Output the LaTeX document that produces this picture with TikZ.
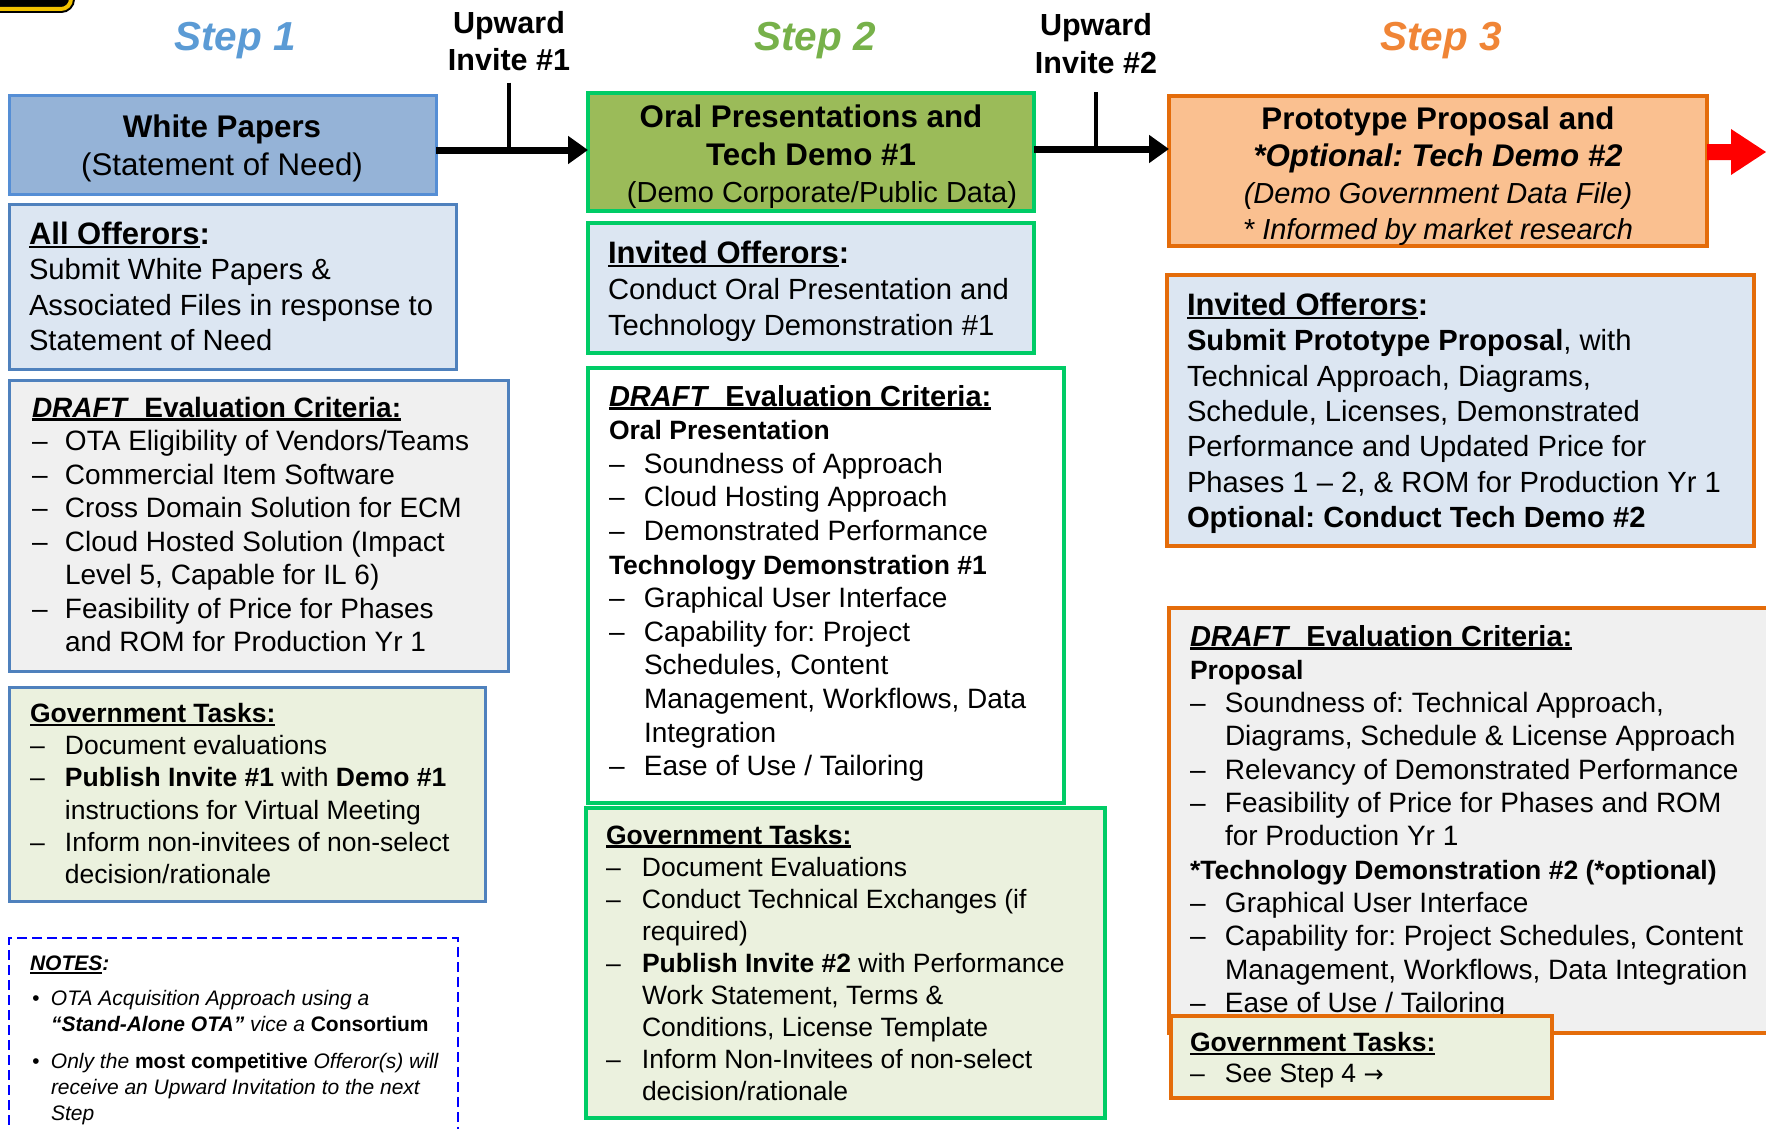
\documentclass[tikz,border=0pt]{standalone}
\usepackage{fontspec}
\setmainfont{Liberation Sans}
\newfontfamily\symfont{DejaVu Sans}
\usetikzlibrary{arrows.meta}
\definecolor{stepA}{HTML}{5B9BD5}
\definecolor{stepB}{HTML}{77B14A}
\definecolor{stepC}{HTML}{F08536}
\definecolor{wpfill}{HTML}{95B3D7}
\definecolor{wpdraw}{HTML}{558ED5}
\definecolor{blueline}{HTML}{4F81BD}
\definecolor{lblue}{HTML}{DCE6F2}
\definecolor{lgray}{HTML}{F0F0F0}
\definecolor{lgreen}{HTML}{EBF1DE}
\definecolor{olive}{HTML}{9BBB59}
\definecolor{grnline}{HTML}{00CC66}
\definecolor{peach}{HTML}{FAC090}
\definecolor{orgline}{HTML}{E46C0A}
\definecolor{badgeY}{HTML}{F2C200}
\definecolor{notesblue}{HTML}{0000FF}
\definecolor{redarrow}{HTML}{FF0000}
\newsavebox\ulbox
\newcommand\ulin[1]{\sbox\ulbox{#1}\rlap{\rule[-3.5pt]{\wd\ulbox}{2.2pt}}\usebox\ulbox}
\newcommand\fsz[2]{\fontsize{#1}{#2}\selectfont}
\frenchspacing
\begin{document}
\frenchspacing
\begin{tikzpicture}[x=1pt,y=-1pt,
  bx/.style={inner sep=0pt, outer sep=0pt, anchor=north west},
  c1box/.style={bx, draw=blueline, line width=3pt},
  c2box/.style={bx, draw=grnline, line width=4pt},
  c3box/.style={bx, draw=orgline, line width=4pt},
  txt/.style={inner sep=0pt, outer sep=0pt, anchor=base west},
  ctxt/.style={inner sep=0pt, outer sep=0pt, anchor=base},
  title/.style={ctxt, font={\fsz{40.5}{48}\bfseries\itshape}},
  conn/.style={line width=7pt, -{Triangle[length=20pt,width=27pt]}},
  vline/.style={line width=3.5pt}
]
\useasboundingbox (0,0) rectangle (1766,1129);

% partial badge at the top-left corner
\draw[fill=black, draw=black, line width=8pt, rounded corners=10pt] (-80,-60) rectangle (71,9);
\draw[draw=badgeY, line width=4pt, rounded corners=10pt] (-80,-60) rectangle (71,9);

% step titles
\node[title, text=stepA] (s1) at (235,51) {Step 1};
\node[title, text=stepB] (s2) at (815,51) {Step 2};
\node[title, text=stepC] (s3) at (1441,51) {Step 3};

\node[ctxt] (up1) at (509,33.5) {\fsz{30.5}{37}\bfseries\begin{tabular}[t]{@{}c@{}}Upward\\Invite \#1\end{tabular}};
\node[ctxt] (up2) at (1096,36) {\fsz{30.5}{38}\bfseries\begin{tabular}[t]{@{}c@{}}Upward\\Invite \#2\end{tabular}};

% ---------- column 1 ----------
\node[bx, fill=wpfill, draw=wpdraw, line width=3pt, minimum width=427pt, minimum height=98pt] (wp) at (9,96) {};
\node[ctxt] (wpt) at (222,137) {\fsz{31.3}{38}\begin{tabular}[t]{@{}c@{}}\textbf{White Papers}\\(Statement of Need)\end{tabular}};

\node[c1box, fill=lblue, minimum width=447pt, minimum height=165pt] (all) at (9,204) {};
\node[txt] (allt) at (29,244.5) {\fsz{29.2}{35.3}\begin{tabular}[t]{@{}l@{}}
{\fsz{31}{35.3}\textbf{\ulin{All Offerors}:}}\\
Submit White Papers \&\\
Associated Files in response to\\
Statement of Need
\end{tabular}};

\node[c1box, fill=lgray, minimum width=499pt, minimum height=291pt] (dr1) at (9,380) {};
\node[txt] (dr1t) at (32,417) {\fsz{28}{33.5}\begin{tabular}[t]{@{}p{33pt}@{}l@{}}
\multicolumn{2}{@{}l@{}}{\ulin{\textbf{\textit{DRAFT}\ \ Evaluation Criteria:}}}\\
– & OTA Eligibility of Vendors/Teams\\
– & Commercial Item Software\\
– & Cross Domain Solution for ECM\\
– & Cloud Hosted Solution (Impact\\
  & Level 5, Capable for IL 6)\\
– & Feasibility of Price for Phases\\
  & and ROM for Production Yr 1
\end{tabular}};

\node[c1box, fill=lgreen, minimum width=476pt, minimum height=214pt] (gv1) at (9,687) {};
\node[txt] (gv1t) at (30,722.5) {\fsz{26.5}{32.2}\begin{tabular}[t]{@{}p{35pt}@{}l@{}}
\multicolumn{2}{@{}l@{}}{\ulin{\textbf{Government Tasks:}}}\\
– & Document evaluations\\
– & \textbf{Publish Invite \#1} with \textbf{Demo \#1}\\
  & instructions for Virtual Meeting\\
– & Inform non-invitees of non-select\\
  & decision/rationale
\end{tabular}};

\node[bx, draw=notesblue, line width=2.2pt, dash pattern=on 10pt off 5pt, fill=white, minimum width=449pt, minimum height=230pt] (notes) at (9,938) {};
\node[txt] (notest) at (30,970.5) {\fsz{21}{26}\itshape\begin{tabular}[t]{@{}p{21pt}@{}l@{}}
\multicolumn{2}{@{}l@{}}{\textbf{\ulin{NOTES}:}}\\[9pt]
\hspace*{2pt}• & OTA Acquisition Approach using a\\
 & \textbf{“Stand-Alone OTA”} vice a \textbf{\upshape Consortium}\\[11pt]
\hspace*{2pt}• & Only the \textbf{\upshape most competitive} Offeror(s) will\\
 & receive an Upward Invitation to the next\\
 & Step
\end{tabular}};

% ---------- column 2 ----------
\node[c2box, fill=olive, minimum width=446pt, minimum height=118pt] (oral) at (588,93) {};
\node[ctxt] (oralt) at (811,128) {\fsz{31.3}{37.5}\begin{tabular}[t]{@{}c@{}}\textbf{Oral Presentations and}\\\textbf{Tech Demo \#1}\\{\fsz{29}{37.5}\hspace*{22pt}(Demo Corporate/Public Data)}\end{tabular}};

\node[c2box, fill=lblue, minimum width=446pt, minimum height=130pt] (inv2) at (588,223) {};
\node[txt] (inv2t) at (608,263.5) {\fsz{29.2}{36}\begin{tabular}[t]{@{}l@{}}
{\fsz{31}{36}\textbf{\ulin{Invited Offerors}:}}\\
Conduct Oral Presentation and\\
Technology Demonstration \#1
\end{tabular}};

\node[c2box, fill=white, minimum width=476pt, minimum height=435pt] (dr2) at (588,368) {};
\node[txt] (dr2t) at (609,406) {\fsz{28}{33.6}\begin{tabular}[t]{@{}p{35pt}@{}l@{}}
\multicolumn{2}{@{}l@{}}{{\fsz{29}{33.6}\ulin{\textbf{\textit{DRAFT}\ \ Evaluation Criteria:}}}}\\
\multicolumn{2}{@{}l@{}}{\fsz{26.5}{33.6}\textbf{Oral Presentation}}\\
– & Soundness of Approach\\
– & Cloud Hosting Approach\\
– & Demonstrated Performance\\
\multicolumn{2}{@{}l@{}}{\fsz{26.5}{33.6}\textbf{Technology Demonstration \#1}}\\
– & Graphical User Interface\\
– & Capability for: Project\\
  & Schedules, Content\\
  & Management, Workflows, Data\\
  & Integration\\
– & Ease of Use / Tailoring
\end{tabular}};

\node[c2box, fill=lgreen, minimum width=519pt, minimum height=310pt] (gv2) at (586,808) {};
\node[txt] (gv2t) at (606,844) {\fsz{26.5}{32}\begin{tabular}[t]{@{}p{36pt}@{}l@{}}
\multicolumn{2}{@{}l@{}}{\ulin{\textbf{Government Tasks:}}}\\
– & Document Evaluations\\
– & Conduct Technical Exchanges (if\\
  & required)\\
– & \textbf{Publish Invite \#2} with Performance\\
  & Work Statement, Terms \&\\
  & Conditions, License Template\\
– & Inform Non-Invitees of non-select\\
  & decision/rationale
\end{tabular}};

% ---------- column 3 ----------
\node[c3box, fill=peach, minimum width=538pt, minimum height=150pt] (proto) at (1169,96) {};
\node[ctxt] (protot) at (1438,129) {\fsz{31.3}{37}\begin{tabular}[t]{@{}c@{}}\textbf{Prototype Proposal and}\\\textbf{\textit{*Optional: Tech Demo \#2}}\\{\fsz{29}{37}\textit{(Demo Government Data File)}}\\{\fsz{29}{37}\textit{* Informed by market research}}\end{tabular}};

\node[c3box, fill=lblue, minimum width=587pt, minimum height=271pt] (inv3) at (1167,275) {};
\node[txt] (inv3t) at (1187,315.5) {\fsz{29.2}{35.3}\begin{tabular}[t]{@{}l@{}}
{\fsz{31}{35.3}\textbf{\ulin{Invited Offerors}:}}\\
\textbf{Submit Prototype Proposal}, with\\
Technical Approach, Diagrams,\\
Schedule, Licenses, Demonstrated\\
Performance and Updated Price for\\
Phases 1 – 2, \& ROM for Production Yr 1\\
\textbf{Optional: Conduct Tech Demo \#2}
\end{tabular}};

\node[c3box, fill=lgray, minimum width=640pt, minimum height=425pt] (dr3) at (1169,608) {};
\node[txt] (dr3t) at (1190,646) {\fsz{28}{33.3}\begin{tabular}[t]{@{}p{35pt}@{}l@{}}
\multicolumn{2}{@{}l@{}}{{\fsz{29}{33.3}\ulin{\textbf{\textit{DRAFT}\ \ Evaluation Criteria:}}}}\\
\multicolumn{2}{@{}l@{}}{\fsz{26.5}{33.3}\textbf{Proposal}}\\
– & Soundness of: Technical Approach,\\
  & Diagrams, Schedule \& License Approach\\
– & Relevancy of Demonstrated Performance\\
– & Feasibility of Price for Phases and ROM\\
  & for Production Yr 1\\
\multicolumn{2}{@{}l@{}}{\fsz{26.5}{33.3}\textbf{*Technology Demonstration \#2 (*optional)}}\\
– & Graphical User Interface\\
– & Capability for: Project Schedules, Content\\
  & Management, Workflows, Data Integration\\
– & Ease of Use / Tailoring
\end{tabular}};

\node[c3box, fill=lgreen, minimum width=381pt, minimum height=82pt] (gv3) at (1171,1016) {};
\node[txt] (gv3t) at (1190,1051.5) {\fsz{26.5}{31}\begin{tabular}[t]{@{}p{35pt}@{}l@{}}
\multicolumn{2}{@{}l@{}}{\ulin{\textbf{Government Tasks:}}}\\
– & See Step 4 {\symfont\fsz{24}{31}→}
\end{tabular}};

% ---------- connectors ----------
\coordinate (ay1) at (0,150);
\coordinate (ay2) at (0,149);
\draw[conn] (wp.east |- ay1) -- (oral.west |- ay1);
\draw[conn] (oral.east |- ay2) -- (proto.west |- ay2);
\draw[vline] ([yshift=-1pt]up1.south) -- (up1.south |- ay1);
\draw[vline] ([yshift=-7pt]up2.south) -- (up2.south |- ay2);

% red block arrow leaving step 3
\fill[redarrow] (1707,144) -- (1731,144) -- (1731,129) -- (1766,152) -- (1731,175) -- (1731,160) -- (1707,160) -- cycle;
\end{tikzpicture}
\end{document}
